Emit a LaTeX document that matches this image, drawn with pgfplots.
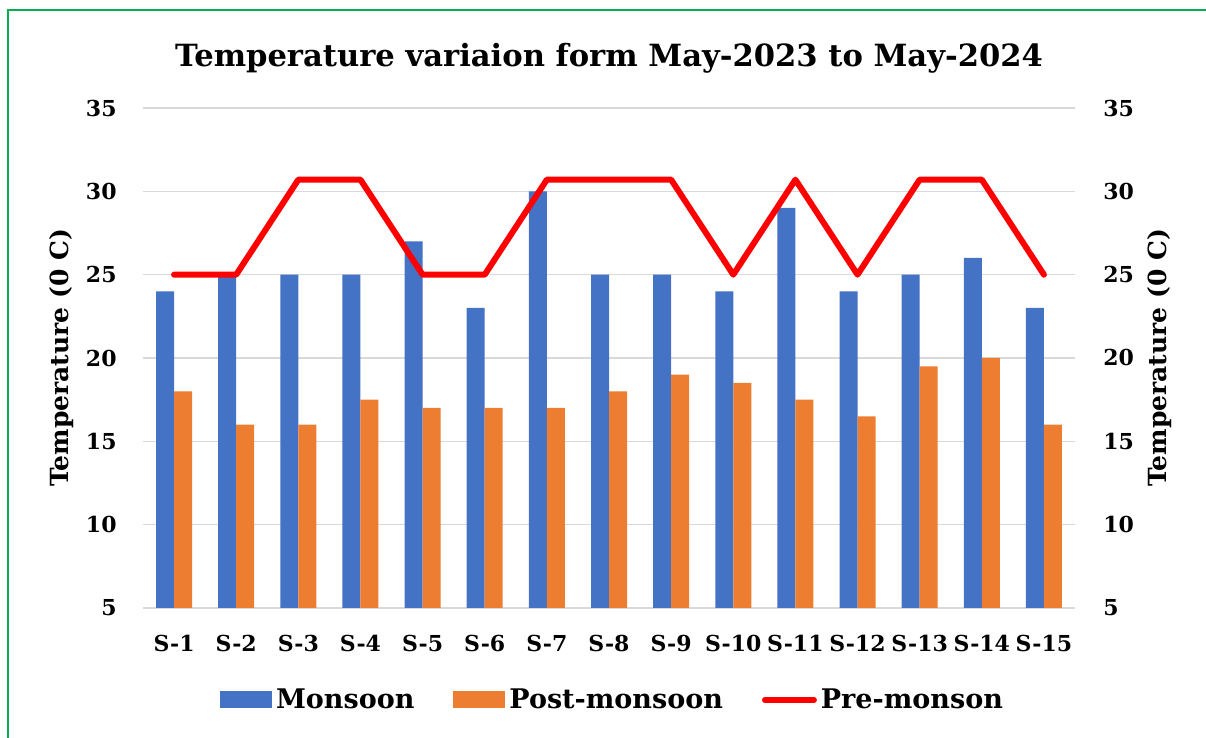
\documentclass[border=0pt]{standalone}
\usepackage{fontspec}
\setmainfont{DejaVu Serif}
\usepackage{pgfplots}
\pgfplotsset{compat=1.18}
\definecolor{cblue}{HTML}{4472C4}
\definecolor{corange}{HTML}{ED7D31}
\definecolor{cgrid}{HTML}{D9D9D9}
\definecolor{cgreen}{HTML}{00B050}
\begin{document}
\begin{tikzpicture}
\path[use as bounding box] (0,0) rectangle (603pt,369pt);
\begin{axis}[
  at={(71.5pt,65pt)}, anchor=south west,
  scale only axis, width=466pt, height=250pt,
  xmin=0.5, xmax=15.5, ymin=5, ymax=35,
  xtick={1,...,15},
  xticklabels={S-1,S-2,S-3,S-4,S-5,S-6,S-7,S-8,S-9,S-10,S-11,S-12,S-13,S-14,S-15},
  ytick={5,10,...,35},
  ymajorgrids, grid style={cgrid, line width=0.8pt},
  axis line style={draw=none},
  major tick length=0pt,
  /pgf/number format/assume math mode=true,
  ticklabel style={font=\fontsize{11}{13}\selectfont\bfseries},
  xticklabel style={anchor=north, inner sep=0pt, yshift=-13.5pt},
  yticklabel style={anchor=east, inner sep=0pt, xshift=-13pt},
  ylabel={Temperature (0 C)},
  ylabel style={at={(rel axis cs:-0.087,0.5)}, rotate=0, anchor=center, font=\fontsize{12.5}{15}\selectfont\bfseries},
  title={Temperature variaion form May-2023 to May-2024},
  title style={at={(rel axis cs:0.5,1)}, anchor=base, yshift=14.5pt, font=\fontsize{15.3}{18}\selectfont\bfseries},
  legend columns=3,
  legend style={at={(rel axis cs:0.5048,-0.184)}, anchor=center, draw=none, fill=none,
    font=\fontsize{13.5}{16}\selectfont\bfseries,
    /tikz/every even column/.append style={column sep=17.5pt},
    inner sep=0pt},
]
\addplot[ybar, bar width=9pt, bar shift=-4.5pt, fill=cblue, draw=none,
  legend image code/.code={\fill[cblue] (0pt,-4.25pt) rectangle (26pt,4.25pt);}]
  coordinates {(1,24) (2,25) (3,25) (4,25) (5,27) (6,23) (7,30) (8,25) (9,25) (10,24) (11,29) (12,24) (13,25) (14,26) (15,23)};
\addlegendentry{Monsoon}
\addplot[ybar, bar width=9pt, bar shift=4.5pt, fill=corange, draw=none,
  legend image code/.code={\fill[corange] (0pt,-4.25pt) rectangle (26pt,4.25pt);}]
  coordinates {(1,18) (2,16) (3,16) (4,17.5) (5,17) (6,17) (7,17) (8,18) (9,19) (10,18.5) (11,17.5) (12,16.5) (13,19.5) (14,20) (15,16)};
\addlegendentry{Post-monsoon}
\addplot[red, line width=3pt, line join=round, line cap=round, mark=none,
  legend image code/.code={\draw[red, line width=3pt, line cap=round] (0pt,0pt) -- (24.5pt,0pt);}]
  coordinates {(1,25) (2,25) (3,30.7) (4,30.7) (5,25) (6,25) (7,30.7) (8,30.7) (9,30.7) (10,25) (11,30.7) (12,25) (13,30.7) (14,30.7) (15,25)};
\addlegendentry{Pre-monson}
\end{axis}
\begin{axis}[
  at={(71.5pt,65pt)}, anchor=south west,
  scale only axis, width=466pt, height=250pt,
  xmin=0.5, xmax=15.5, ymin=5, ymax=35,
  axis x line=none,
  axis y line*=right,
  axis line style={draw=none},
  ytick={5,10,...,35},
  major tick length=0pt,
  /pgf/number format/assume math mode=true,
  ticklabel style={font=\fontsize{11}{13}\selectfont\bfseries},
  yticklabel style={anchor=west, inner sep=0pt, xshift=14pt},
  ylabel={Temperature (0 C)},
  ylabel style={at={(rel axis cs:1.0912,0.5)}, rotate=0, anchor=center, font=\fontsize{12.5}{15}\selectfont\bfseries},
]
\addplot[draw=none, forget plot] coordinates {(1,5)};
\end{axis}
\draw[cgreen, line width=1pt] (4pt,0pt) -- (4pt,364pt) -- (603pt,364pt);
\end{tikzpicture}
\end{document}
